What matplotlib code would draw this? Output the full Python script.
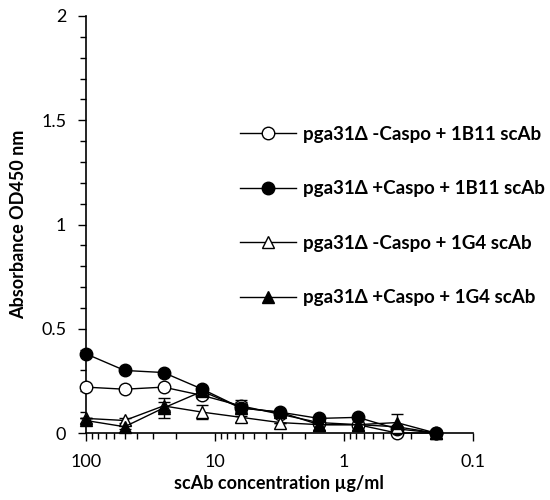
import numpy as np
import matplotlib.pyplot as plt
from matplotlib.lines import Line2D
from matplotlib.ticker import MultipleLocator, FixedLocator, NullFormatter

plt.rcParams['font.family'] = ['Lato', 'DejaVu Sans']

# scAb concentration (ug/ml), two-fold dilutions
conc = [100, 50, 25, 12.5, 6.25, 3.125, 1.5625, 0.78, 0.39, 0.195]

neg_1b11 = [0.22, 0.21, 0.22, 0.18, 0.13, 0.09, 0.05, 0.04, 0.00, 0.00]
pos_1b11 = [0.38, 0.30, 0.29, 0.21, 0.12, 0.10, 0.07, 0.075, 0.02, 0.00]
neg_1g4 = [0.07, 0.06, 0.13, 0.10, 0.075, 0.05, 0.04, 0.04, 0.03, 0.00]
pos_1g4 = [0.06, 0.03, 0.12, 0.20, 0.12, 0.10, 0.04, 0.04, 0.05, 0.00]

neg_1b11_err = [0.0, 0.0, 0.0, 0.01, 0.02, 0.0, 0.0, 0.0, 0.0, 0.0]
pos_1b11_err = [0.0, 0.0, 0.0, 0.01, 0.02, 0.0, 0.0, 0.0, 0.0, 0.0]
neg_1g4_err = [0.0, 0.01, 0.02, 0.035, 0.02, 0.0, 0.0, 0.0, 0.0, 0.0]
pos_1g4_err = [0.01, 0.01, 0.05, 0.01, 0.04, 0.01, 0.0, 0.0, 0.04, 0.0]

labels = ['pga31Δ -Caspo + 1B11 scAb', 'pga31Δ +Caspo + 1B11 scAb',
          'pga31Δ -Caspo + 1G4 scAb', 'pga31Δ +Caspo + 1G4 scAb']

fig = plt.figure(figsize=(5.5, 5), dpi=100)
ax = fig.add_axes([0.156, 0.134, 0.704, 0.834])

series = [(neg_1b11, neg_1b11_err, 'o', 'white'),
          (pos_1b11, pos_1b11_err, 'o', 'black'),
          (neg_1g4, neg_1g4_err, '^', 'white'),
          (pos_1g4, pos_1g4_err, '^', 'black')]

handles = []
for (y, err, m, fc), lab in zip(series, labels):
    ax.errorbar(conc, y, yerr=err, color='black', lw=1, marker=m, ms=9,
                mfc=fc, mec='black', mew=1, capsize=4, elinewidth=1,
                clip_on=False, zorder=3)
    handles.append(Line2D([], [], color='black', lw=1, marker=m, ms=9,
                          mfc=fc, mec='black', mew=1, label=lab))

ax.set_xscale('log')
ax.set_xlim(100, 0.1)
ax.set_ylim(0, 2)
ax.set_xticks([100, 10, 1, 0.1])
ax.set_xticklabels(['100', '10', '1', '0.1'])
minors = [k * d for d in [10, 1, 0.1] for k in range(2, 10)]
ax.xaxis.set_minor_locator(FixedLocator(minors))
ax.xaxis.set_minor_formatter(NullFormatter())
ax.set_yticks([0, 0.5, 1, 1.5, 2])
ax.set_yticklabels(['0', '0.5', '1', '1.5', '2'])
ax.yaxis.set_minor_locator(MultipleLocator(0.1))

for s in ['top', 'right']:
    ax.spines[s].set_visible(False)
ax.spines['left'].set_linewidth(1.2)
ax.spines['bottom'].set_linewidth(1.2)
ax.tick_params(axis='both', which='major', direction='out', length=6, width=1, labelsize=13)
ax.tick_params(axis='both', which='minor', direction='out', length=4, width=1)
ax.tick_params(axis='x', pad=9)
ax.tick_params(axis='y', pad=8)

ax.set_xlabel('scAb concentration µg/ml', fontsize=13, fontweight='bold', labelpad=4)
ax.set_ylabel('Absorbance OD450 nm', fontsize=13, fontweight='bold', labelpad=10)

fig.legend(handles=handles, loc='center left', bbox_to_anchor=(0.436, 0.568),
           frameon=False, prop={'weight': 'bold', 'size': 13.5}, labelspacing=2.0,
           handlelength=3.0, handletextpad=0.35, borderpad=0, borderaxespad=0)

fig.savefig('out.png', dpi=100)
